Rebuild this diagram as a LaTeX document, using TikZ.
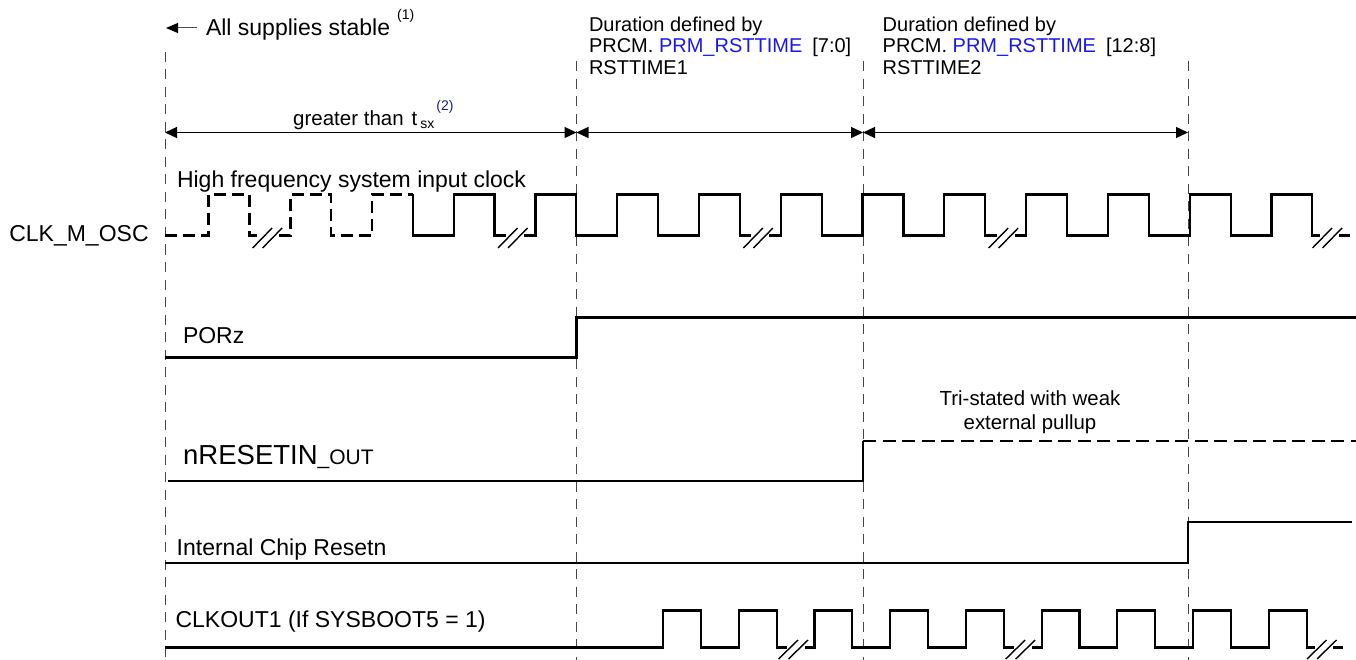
\documentclass[tikz,border=0pt]{standalone}
\usepackage{fontspec}
\setmainfont{Liberation Sans}
\usetikzlibrary{arrows.meta}
\definecolor{linkblue}{RGB}{25,25,235}
\definecolor{noteblue}{RGB}{30,30,140}
\definecolor{gridgray}{RGB}{70,70,70}
\tikzset{
  wave/.style={line width=2.2pt, line join=miter, black},
  wavedash/.style={wave, line width=2.8pt, dash pattern=on 12pt off 6pt},
  tristate/.style={wave, dash pattern=on 13pt off 6.5pt},
  gridline/.style={gridgray, line width=1pt, dash pattern=on 10pt off 7.5pt},
  dimarrow/.style={line width=1.2pt, {Triangle[length=12pt,width=11pt]}-{Triangle[length=12pt,width=11pt]}},
  brk/.style={line width=1.4pt, black},
  lbl/.style={anchor=base west, inner sep=0pt, outer sep=0pt, font=\fontsize{23}{27}\selectfont},
  durlbl/.style={anchor=base west, inner sep=0pt, outer sep=0pt, font=\fontsize{20}{22}\selectfont},
  trilbl/.style={anchor=base, inner sep=0pt, outer sep=0pt, font=\fontsize{20.4}{22}\selectfont}
}
\begin{document}
\begin{tikzpicture}[x=1pt,y=-1pt]
\useasboundingbox (0,0) rectangle (1356,660);
\fill[white] (0,0) rectangle (1356,660);

% grid line coordinates
\coordinate (g1t) at (165,52);    \coordinate (g1b) at (165,660);
\coordinate (g2t) at (576.5,61.5); \coordinate (g2b) at (576.5,660);
\coordinate (g3t) at (863,61.5);  \coordinate (g3b) at (863,660);
\coordinate (g4t) at (1188,61.5); \coordinate (g4b) at (1188,660);
\foreach \g in {1,2,3,4} \draw[gridline] (g\g t) -- (g\g b);

% dimension arrows
\coordinate (a1) at (165,132.5);
\coordinate (a2) at (576.5,132.5);
\coordinate (a3) at (863,132.5);
\coordinate (a4) at (1188,132.5);
\draw[dimarrow] (a1) -- (a2);
\draw[dimarrow] (a2) -- (a3);
\draw[dimarrow] (a3) -- (a4);

% top texts
\node[lbl] (sup) at (206,35.2) {All supplies stable\hspace{7pt}\raisebox{16pt}{\fontsize{14}{14}\selectfont (1)}};
\coordinate (supA) at (197,28);
\coordinate (supB) at (166,28);
\draw[line width=1pt, gray!60!black, -{Triangle[length=12pt,width=10pt,color=black]}] (supA) -- (supB);

\node[anchor=base west, inner sep=0pt, font=\fontsize{20.5}{22}\selectfont] (gt) at (293,125.4)
  {greater than\hspace{8pt}t\hspace{3pt}\raisebox{-3.2pt}{\fontsize{14}{14}\selectfont sx}\hspace{2pt}\raisebox{15pt}{\fontsize{14}{14}\selectfont\color{noteblue}(2)}};

\node[durlbl] (d1a) at (589,32) {Duration defined by};
\node[durlbl] (d1b) at (589,53) {PRCM. \textcolor{linkblue}{PRM\_RSTTIME}\hspace{10pt}[7:0]};
\node[durlbl] (d1c) at (589,74.5) {RSTTIME1};
\node[durlbl] (d2a) at (882.7,32) {Duration defined by};
\node[durlbl] (d2b) at (882.7,53) {PRCM. \textcolor{linkblue}{PRM\_RSTTIME}\hspace{10pt}[12:8]};
\node[durlbl] (d2c) at (882.7,74.5) {RSTTIME2};

% signal labels
\node[lbl] (hfc) at (177,187.2) {High frequency system input clock};
\node[lbl] (clk) at (9.3,241.7) {CLK\_M\_OSC};
\node[lbl] (por) at (183,343.2) {PORz};
\node[anchor=base west, inner sep=0pt, font=\fontsize{27.5}{30}\selectfont] (nrs) at (183,464.8)
  {nRESETIN{\fontsize{21}{24}\selectfont\_OUT}};
\node[trilbl] (tri1) at (1030,405.3) {Tri-stated with weak};
\node[trilbl] (tri2) at (1030,429.3) {external pullup};
\node[lbl] (icr) at (176.7,555.2) {Internal Chip Resetn};
\node[lbl] (cko) at (175.6,627.2) {CLKOUT1 (If SYSBOOT5 = 1)};

% CLK_M_OSC : dashed start
\draw[wavedash] (165,235.5) -- (208.3,235.5) -- (208.3,194.5) -- (249.2,194.5) -- (249.2,235.5) -- (260.6,235.5);
\draw[wavedash] (278.6,235.5) -- (290.1,235.5) -- (290.1,194.5) -- (331,194.5) -- (331,235.5) -- (371.9,235.5) -- (371.9,194.5) -- (412.8,194.5);
% CLK_M_OSC : solid
\draw[wave] (412.8,194.5) -- (412.8,235.5) -- (453.6,235.5) -- (453.6,194.5) -- (494.5,194.5) -- (494.5,235.5) -- (506,235.5);
\draw[wave] (524,235.5) -- (535.4,235.5) -- (535.4,194.5) -- (576.3,194.5) -- (576.3,235.5) -- (617.2,235.5) -- (617.2,194.5) -- (658.1,194.5) -- (658.1,235.5) -- (699,235.5) -- (699,194.5) -- (739.9,194.5) -- (739.9,235.5) -- (751.4,235.5);
\draw[wave] (769.4,235.5) -- (780.8,235.5) -- (780.8,194.5) -- (821.7,194.5) -- (821.7,235.5) -- (862.5,235.5) -- (862.5,194.5) -- (903.4,194.5) -- (903.4,235.5) -- (944.3,235.5) -- (944.3,194.5) -- (985.2,194.5) -- (985.2,235.5) -- (996.7,235.5);
\draw[wave] (1014.7,235.5) -- (1026.1,235.5) -- (1026.1,194.5) -- (1067,194.5) -- (1067,235.5) -- (1107.9,235.5) -- (1107.9,194.5) -- (1148.8,194.5) -- (1148.8,235.5) -- (1189.7,235.5) -- (1189.7,194.5) -- (1230.6,194.5) -- (1230.6,235.5) -- (1271.5,235.5) -- (1271.5,194.5) -- (1312.3,194.5) -- (1312.3,235.5) -- (1320,235.5);
\draw[wave] (1339,235.5) -- (1350,235.5);
\foreach \c in {269.6,515,760.4,1005.7,1329.5}{
  \draw[brk] (\c-17,248) -- (\c+2.5,228);
  \draw[brk] (\c-7,248) -- (\c+12.5,228);
}

% PORz
\draw[wave] (165,357.5) -- (576.5,357.5) -- (576.5,317.5) -- (1356,317.5);

% nRESETIN_OUT
\draw[wave] (168,481) -- (863,481) -- (863,441);
\draw[tristate] (863,441) -- (1356,441);

% Internal Chip Resetn
\draw[wave] (165,563) -- (1188,563) -- (1188,522) -- (1352,522);

% CLKOUT1
\draw[wave] (165,647.5) -- (663,647.5) -- (663,610.5) -- (700.9,610.5) -- (700.9,647.5) -- (738.7,647.5) -- (738.7,610.5) -- (776.6,610.5) -- (776.6,647.5) -- (786.5,647.5);
\draw[wave] (804.5,647.5) -- (814.4,647.5) -- (814.4,610.5) -- (852.3,610.5) -- (852.3,647.5) -- (890.2,647.5) -- (890.2,610.5) -- (928,610.5) -- (928,647.5) -- (965.9,647.5) -- (965.9,610.5) -- (1003.7,610.5) -- (1003.7,647.5) -- (1013.7,647.5);
\draw[wave] (1031.7,647.5) -- (1041.6,647.5) -- (1041.6,610.5) -- (1079.5,610.5) -- (1079.5,647.5) -- (1117.3,647.5) -- (1117.3,610.5) -- (1155.2,610.5) -- (1155.2,647.5) -- (1193,647.5) -- (1193,610.5) -- (1230.9,610.5) -- (1230.9,647.5) -- (1268.8,647.5) -- (1268.8,610.5) -- (1306.6,610.5) -- (1306.6,647.5) -- (1315,647.5);
\draw[wave] (1333,647.5) -- (1343,647.5);
\foreach \c in {795.5,1022.7,1324}{
  \draw[brk] (\c-17,659) -- (\c+2.5,640);
  \draw[brk] (\c-7,659) -- (\c+12.5,640);
}
\end{tikzpicture}
\end{document}
